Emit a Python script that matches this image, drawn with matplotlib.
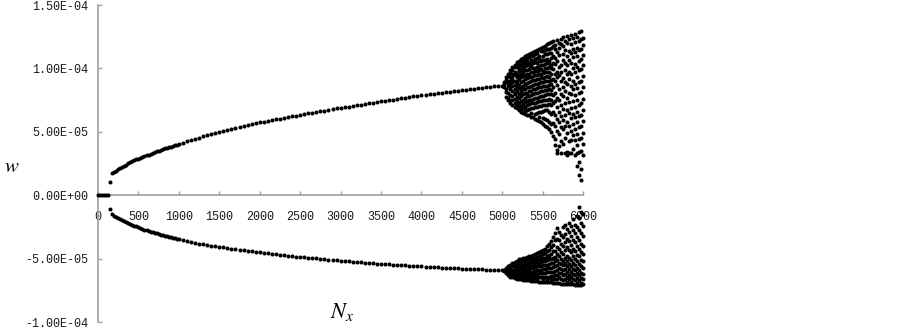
import numpy as np
import matplotlib as mpl
import matplotlib.pyplot as plt

mpl.rcParams.update({
    "mathtext.fontset": "stix",
    "font.family": "Liberation Mono",
})

# ----- data (w in units of 1e-5) -----
zero_nx = np.arange(0, 150, 25)
zero_w = [0.0] * len(zero_nx)

# stable pair of branches, step 25 up to 1000 then step 50 up to 5000
branch_nx = np.concatenate([np.arange(150, 1001, 25), np.arange(1050, 5001, 50)])
upper_w = [
    1.05, 1.75, 1.85, 1.95, 2.05, 2.15, 2.25, 2.34, 2.43, 2.52, 2.6, 2.68, 2.76, 2.83,
    2.9, 2.96, 3.03, 3.09, 3.15, 3.21, 3.28, 3.34, 3.4, 3.46, 3.53, 3.59, 3.65, 3.7,
    3.75, 3.8, 3.85, 3.9, 3.95, 4.0, 4.05,
    4.15, 4.25, 4.35, 4.45, 4.55, 4.64, 4.73, 4.82, 4.91, 5.0, 5.08, 5.15, 5.23, 5.3,
    5.38, 5.45, 5.53, 5.6, 5.68, 5.75, 5.81, 5.87, 5.93, 5.99, 6.05, 6.11, 6.17, 6.23,
    6.29, 6.35, 6.41, 6.46, 6.52, 6.57, 6.63, 6.68, 6.74, 6.79, 6.85, 6.9, 6.95, 7.0,
    7.05, 7.1, 7.15, 7.2, 7.25, 7.3, 7.35, 7.4, 7.45, 7.5, 7.55, 7.6, 7.65, 7.7, 7.75,
    7.8, 7.85, 7.9, 7.94, 7.98, 8.02, 8.06, 8.1, 8.14, 8.18, 8.22, 8.26, 8.3, 8.34,
    8.37, 8.41, 8.44, 8.48, 8.51, 8.55, 8.58, 8.62, 8.65,
]
lower_w = [
    -1.08, -1.45, -1.6, -1.7, -1.8, -1.88, -1.95, -2.03, -2.1, -2.18, -2.25, -2.31,
    -2.38, -2.44, -2.5, -2.56, -2.63, -2.69, -2.75, -2.8, -2.85, -2.9, -2.95, -3.0,
    -3.05, -3.1, -3.15, -3.19, -3.23, -3.26, -3.3, -3.34, -3.38, -3.41, -3.45,
    -3.52, -3.59, -3.66, -3.73, -3.8, -3.85, -3.9, -3.95, -4.0, -4.05, -4.1, -4.14,
    -4.19, -4.23, -4.28, -4.32, -4.37, -4.41, -4.46, -4.5, -4.54, -4.57, -4.61, -4.64,
    -4.68, -4.71, -4.75, -4.78, -4.82, -4.85, -4.88, -4.91, -4.94, -4.97, -5.0, -5.03,
    -5.06, -5.09, -5.12, -5.15, -5.18, -5.2, -5.23, -5.25, -5.28, -5.3, -5.33, -5.35,
    -5.38, -5.4, -5.42, -5.44, -5.46, -5.48, -5.5, -5.52, -5.54, -5.56, -5.58, -5.6,
    -5.62, -5.64, -5.65, -5.67, -5.69, -5.71, -5.73, -5.74, -5.76, -5.78, -5.79, -5.8,
    -5.82, -5.83, -5.84, -5.85, -5.87, -5.88, -5.89, -5.9,
]

# period-doubling / chaotic region, one list of w values per Nx column
chaos_nx = np.arange(5025, 6001, 25)
chaos_upper = [
    [8.95, 8.5, 8.75],
    [9.3, 9.1, 8.9, 8.15, 7.75, 8.4],
    [9.6, 9.4, 9.05, 8.6, 8.05, 7.5, 7.7, 8.85],
    [9.9, 9.65, 9.3, 9.05, 8.75, 8.35, 7.9, 7.55, 7.25, 8.55],
    [10.1, 9.85, 9.6, 9.2, 8.95, 8.6, 8.2, 7.8, 7.5, 7.1, 9.4],
    [10.3, 10.1, 9.75, 9.45, 9.0, 8.7, 8.35, 7.95, 7.6, 7.25, 6.95, 8.1],
    [10.5, 10.25, 10.1, 9.6, 9.3, 8.85, 8.55, 8.2, 7.75, 7.45, 7.1, 6.85, 9.05],
    [10.6, 10.45, 10.15, 9.8, 9.45, 9.2, 8.7, 8.45, 8.0, 7.65, 7.3, 6.95, 6.7, 9.9],
    [10.75, 10.55, 10.3, 9.9, 9.6, 9.3, 8.9, 8.55, 8.15, 7.85, 7.4, 7.05, 6.75, 6.6, 8.25],
    [10.85, 10.6, 10.35, 10.05, 9.75, 9.4, 9.0, 8.65, 8.35, 7.95, 7.55, 7.2, 6.85, 6.5, 10.2],
    [10.95, 10.7, 10.45, 10.2, 9.85, 9.5, 9.15, 8.8, 8.4, 8.05, 7.7, 7.35, 7.0, 6.65, 6.4],
    [11.05, 10.8, 10.55, 10.3, 9.9, 9.6, 9.25, 8.85, 8.5, 8.1, 7.8, 7.45, 7.1, 6.75, 6.35, 9.4],
    [11.15, 10.9, 10.4, 10.25, 9.95, 9.55, 9.3, 8.95, 8.55, 8.2, 7.85, 7.5, 7.2, 6.8, 6.3],
    [11.2, 10.95, 10.65, 10.35, 10.1, 9.7, 9.35, 9.0, 8.65, 8.25, 7.9, 7.55, 7.25, 6.85, 6.2, 6.5],
    [11.3, 11.0, 10.55, 10.4, 10.05, 9.75, 9.4, 9.1, 8.7, 8.35, 7.95, 7.6, 7.3, 6.9, 6.15],
    [11.35, 11.1, 10.75, 10.5, 10.0, 9.8, 9.5, 9.1, 8.75, 8.4, 8.05, 7.65, 7.3, 6.95, 6.45, 6.05],
    [11.45, 11.2, 10.85, 10.45, 10.15, 9.8, 9.45, 9.2, 8.8, 8.45, 8.1, 7.7, 7.35, 7.0, 6.5, 5.95],
    [11.55, 11.0, 10.9, 10.55, 10.2, 9.9, 9.55, 9.2, 8.85, 8.5, 8.15, 7.75, 7.4, 7.05, 6.55, 5.85, 6.2],
    [11.6, 11.35, 10.7, 10.6, 10.25, 9.95, 9.6, 9.3, 8.9, 8.55, 8.2, 7.8, 7.45, 7.05, 6.6, 5.75],
    [11.7, 11.4, 10.95, 10.65, 10.3, 9.8, 9.65, 9.25, 8.95, 8.6, 8.25, 7.85, 7.5, 7.1, 6.65, 6.1, 5.6],
    [11.8, 11.45, 11.1, 10.7, 10.35, 10.0, 9.7, 9.35, 9.0, 8.6, 8.3, 7.9, 7.5, 7.15, 6.7, 6.0, 5.5],
    [11.9, 11.5, 11.15, 10.75, 10.4, 10.05, 9.7, 9.4, 9.0, 8.65, 8.3, 7.95, 7.55, 7.15, 6.7, 5.9, 5.35],
    [12.0, 11.55, 11.2, 10.6, 10.45, 10.1, 9.75, 9.35, 9.05, 8.7, 8.35, 7.95, 7.6, 7.2, 6.6, 5.8, 5.2],
    [12.05, 11.6, 11.25, 10.85, 10.3, 10.0, 9.6, 9.1, 8.75, 8.3, 7.95, 7.5, 7.1, 6.4, 5.6, 5.0],
    [12.15, 11.75, 11.0, 10.45, 9.95, 9.2, 8.55, 7.9, 7.25, 6.6, 5.7, 4.7],
    [11.85, 11.5, 10.8, 10.35, 9.6, 9.05, 8.1, 7.4, 6.35, 5.45, 4.45, 3.95],
    [12.25, 11.3, 10.55, 9.75, 9.3, 8.7, 7.7, 6.95, 6.0, 5.1, 3.55, 3.3],
    [12.0, 11.6, 11.05, 10.1, 9.45, 8.35, 7.55, 6.55, 5.75, 4.85, 3.9],
    [12.35, 11.9, 10.3, 9.7, 9.0, 8.0, 7.15, 6.25, 5.35, 4.3, 3.35],
    [12.45, 11.8, 11.1, 10.7, 9.25, 8.55, 7.85, 6.8, 5.9, 5.2, 4.05],
    [12.2, 11.45, 10.45, 9.9, 8.95, 8.2, 7.3, 6.35, 5.5, 4.55, 3.35],
    [12.55, 12.0, 10.95, 10.25, 9.55, 8.75, 7.65, 6.7, 5.75, 4.9, 3.4, 3.2],
    [12.3, 11.35, 10.65, 9.75, 9.15, 8.1, 7.35, 6.5, 5.45, 4.25, 3.3],
    [12.65, 11.95, 11.2, 10.4, 9.6, 8.6, 7.95, 6.85, 6.1, 5.05, 4.4, 3.3],
    [12.4, 11.55, 10.9, 10.0, 9.05, 8.35, 7.45, 6.45, 5.6, 4.75, 3.65],
    [12.75, 12.05, 11.3, 10.35, 9.7, 8.8, 7.9, 6.95, 6.2, 5.25, 4.35, 3.2],
    [12.5, 11.65, 10.95, 10.15, 9.3, 8.45, 7.55, 6.6, 5.75, 4.85, 3.95, 3.3, 2.3],
    [12.85, 12.15, 11.45, 10.55, 9.85, 8.95, 8.05, 7.15, 6.25, 5.35, 4.45, 3.45, 2.6, 1.6],
    [12.95, 12.35, 11.55, 10.75, 9.95, 9.05, 8.15, 7.25, 6.35, 5.45, 4.55, 3.5, 2.1, 1.2],
    [12.4, 11.85, 11.05, 10.25, 9.4, 8.55, 7.6, 6.75, 5.85, 4.95, 4.05, 3.2],
]
chaos_lower = [
    [-5.95, -5.85],
    [-5.75, -6.1, -5.95],
    [-5.6, -5.85, -6.15, -6.3, -6.0],
    [-5.45, -5.7, -5.95, -6.2, -6.4, -5.55],
    [-5.35, -5.6, -5.85, -6.05, -6.3, -6.45, -5.95],
    [-5.25, -5.5, -5.75, -5.95, -6.2, -6.4, -6.5, -5.4],
    [-5.15, -5.4, -5.65, -5.9, -6.1, -6.3, -6.5, -6.55, -5.8],
    [-5.05, -5.3, -5.55, -5.8, -6.0, -6.25, -6.45, -6.6, -5.2],
    [-5.0, -5.25, -5.5, -5.75, -6.0, -6.2, -6.45, -6.6, -5.65],
    [-4.95, -5.2, -5.45, -5.7, -5.95, -6.2, -6.4, -6.65, -6.3],
    [-4.9, -5.15, -5.4, -5.65, -5.9, -6.15, -6.4, -6.65, -5.05],
    [-4.85, -5.1, -5.35, -5.6, -5.85, -6.1, -6.35, -6.55, -6.7],
    [-4.8, -5.05, -5.3, -5.55, -5.8, -6.05, -6.3, -6.5, -6.7, -4.95],
    [-4.75, -5.0, -5.25, -5.5, -5.75, -6.05, -6.3, -6.5, -6.75],
    [-4.7, -4.95, -5.2, -5.45, -5.7, -6.0, -6.25, -6.5, -6.75, -5.35],
    [-4.6, -4.9, -5.15, -5.4, -5.65, -5.95, -6.2, -6.45, -6.75],
    [-4.55, -4.85, -5.1, -5.35, -5.6, -5.9, -6.2, -6.45, -6.75, -6.6],
    [-4.5, -4.8, -5.05, -5.3, -5.6, -5.9, -6.15, -6.45, -6.8],
    [-4.4, -4.7, -5.0, -5.25, -5.55, -5.85, -6.15, -6.45, -6.8, -4.55],
    [-4.3, -4.6, -4.95, -5.2, -5.5, -5.8, -6.1, -6.4, -6.8, -6.6],
    [-4.2, -4.55, -4.9, -5.2, -5.5, -5.8, -6.1, -6.4, -6.8, -5.0],
    [-4.0, -4.4, -4.8, -5.1, -5.45, -5.75, -6.05, -6.4, -6.8, -6.6],
    [-3.8, -4.3, -4.7, -5.05, -5.4, -5.7, -6.05, -6.4, -6.85, -4.95],
    [-3.6, -4.1, -4.6, -5.0, -5.35, -5.7, -6.0, -6.35, -6.85, -6.6],
    [-3.3, -3.9, -4.4, -4.9, -5.3, -5.65, -6.0, -6.35, -6.6, -6.9],
    [-3.0, -3.55, -4.35, -4.85, -5.2, -5.6, -5.95, -6.25, -6.6, -6.9],
    [-2.6, -3.4, -4.1, -4.65, -5.1, -5.5, -5.9, -6.3, -6.55, -6.9],
    [-2.85, -3.5, -4.25, -4.8, -5.3, -5.7, -6.1, -6.45, -6.9],
    [-3.15, -3.8, -4.45, -5.0, -5.4, -5.8, -6.15, -6.6, -6.95],
    [-2.5, -3.3, -4.0, -4.6, -5.15, -5.5, -5.9, -6.3, -6.7, -6.95],
    [-2.3, -3.05, -3.7, -4.3, -4.9, -5.4, -5.8, -6.2, -6.6, -7.0],
    [-2.65, -3.4, -4.1, -4.75, -5.2, -5.6, -6.0, -6.4, -6.8, -7.0],
    [-2.2, -2.9, -3.6, -4.3, -4.95, -5.4, -5.8, -6.25, -6.6, -7.0],
    [-2.45, -3.2, -3.9, -4.5, -5.1, -5.6, -6.0, -6.4, -6.8, -7.0],
    [-1.9, -2.7, -3.5, -4.2, -4.8, -5.3, -5.8, -6.2, -6.6, -7.0],
    [-2.3, -3.0, -3.7, -4.4, -5.0, -5.5, -5.9, -6.3, -6.7, -7.05],
    [-1.6, -2.5, -3.3, -4.0, -4.7, -5.2, -5.7, -6.1, -6.5, -6.9, -7.05],
    [-0.9, -1.8, -2.7, -3.5, -4.2, -4.8, -5.4, -5.9, -6.3, -6.7, -7.05],
    [-1.3, -2.2, -3.0, -3.8, -4.5, -5.1, -5.6, -6.1, -6.5, -6.9, -7.1],
    [-1.5, -2.4, -3.2, -4.0, -4.6, -5.2, -5.7, -6.2, -6.6, -7.0],
]

x_ticks = np.arange(0, 6001, 500)
y_ticks = [1.5e-4, 1.0e-4, 5.0e-5, 0.0, -5.0e-5, -1.0e-4]
y_tick_labels = ["1.50E-04", "1.00E-04", "5.00E-05", "0.00E+00", "-5.00E-05", "-1.00E-04"]

# ----- figure -----
fig = plt.figure(figsize=(9.03, 3.29), dpi=100)
ax = fig.add_axes([0.1085, 0.0204, 0.5374, 0.9644])

scale = 1e-5
pts_x, pts_y = [], []
pts_x += list(zero_nx); pts_y += [v * scale for v in zero_w]
pts_x += list(branch_nx); pts_y += [v * scale for v in upper_w]
pts_x += list(branch_nx); pts_y += [v * scale for v in lower_w]
for nx, col in zip(chaos_nx, chaos_upper):
    pts_x += [nx] * len(col); pts_y += [v * scale for v in col]
for nx, col in zip(chaos_nx, chaos_lower):
    pts_x += [nx] * len(col); pts_y += [v * scale for v in col]

ax.scatter(pts_x, pts_y, s=8.5, color="black", linewidths=0, clip_on=False, zorder=3)

ax.set_xlim(0, 6000)
ax.set_ylim(-1.0e-4, 1.5e-4)
ax.spines["top"].set_visible(False)
ax.spines["right"].set_visible(False)
ax.spines["bottom"].set_position(("data", 0))
for s in ("left", "bottom"):
    ax.spines[s].set_color("#a0a0a0")
    ax.spines[s].set_linewidth(1.2)

ax.set_xticks(x_ticks)
ax.set_xticklabels([str(t) for t in x_ticks])
ax.set_yticks(y_ticks)
ax.set_yticklabels(y_tick_labels)
ax.tick_params(axis="both", direction="in", length=3, width=1, color="#a0a0a0",
               labelsize=8.5, labelcolor="#1a1a1a")
ax.tick_params(axis="x", pad=11)
ax.tick_params(axis="y", pad=7)

fig.text(12 / 903, 1 - 166 / 329, r"$w$", fontsize=15, ha="center", va="center")
fig.text(342 / 903, 1 - 312 / 329, r"$N_x$", fontsize=16, ha="center", va="center")

fig.savefig("out.png", dpi=100)
